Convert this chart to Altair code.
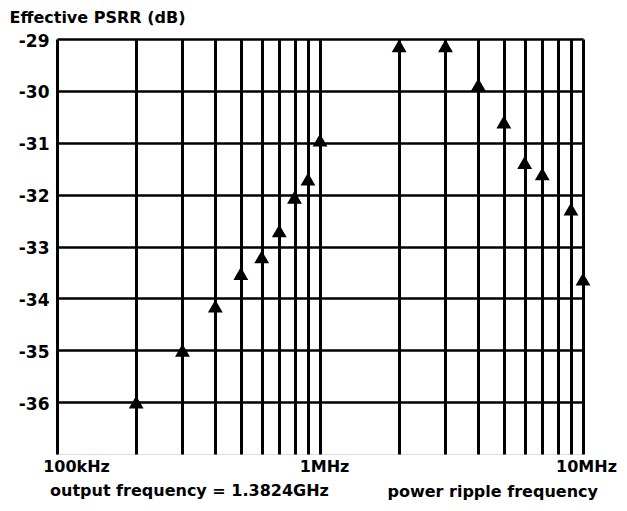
import altair as alt
import pandas as pd

# data
freq_hz = [200000, 300000, 400000, 500000, 600000, 700000, 800000, 900000,
           1000000, 2000000, 3000000, 4000000, 5000000, 6000000, 7000000,
           9000000, 10000000]
psrr_db = [-36.0, -35.0, -34.15, -33.52, -33.2, -32.7, -32.05, -31.7,
           -30.95, -29.13, -29.13, -29.88, -30.6, -31.38, -31.6,
           -32.28, -33.63]

grid_freqs = [100000, 200000, 300000, 400000, 500000, 600000, 700000, 800000,
              900000, 1000000, 2000000, 3000000, 4000000, 5000000, 6000000,
              7000000, 8000000, 9000000, 10000000]
y_ticks = [-36, -35, -34, -33, -32, -31, -30, -29]

FONT = "DejaVu Sans"

df = pd.DataFrame({"freq": freq_hz, "psrr": psrr_db})

x_scale = alt.Scale(type="log", domain=[100000, 10000000], nice=False)
y_scale = alt.Scale(domain=[-37, -29], nice=False, zero=False)

x_axis = alt.Axis(
    values=grid_freqs,
    labelExpr="datum.value == 100000 ? '100kHz' : datum.value == 1000000 ? '1MHz' : datum.value == 10000000 ? '10MHz' : ''",
    grid=True, gridColor="black", gridWidth=3, gridOpacity=1,
    ticks=False, domain=False,
    labelFont=FONT, labelFontSize=16, labelFontWeight="bold", labelColor="black",
    labelAlign="center", labelBaseline="alphabetic", labelPadding=17,
    labelFlush=False, labelOverlap=False,
    labelOffset={"condition": [{"test": "datum.value == 1000000", "value": 4},
                               {"test": "datum.value == 10000000", "value": 3}],
                 "value": 19},
    title="power ripple frequency",
    titleFont=FONT, titleFontSize=16, titleFontWeight="bold", titleColor="black",
    titleAlign="left", titleBaseline="alphabetic", titleX=330, titleY=42,
)

y_axis = alt.Axis(
    values=y_ticks,
    labelExpr="'' + datum.value",
    grid=True, gridColor="black", gridWidth=2.6, gridOpacity=1,
    ticks=False, domain=False,
    labelFont=FONT, labelFontSize=17, labelFontWeight="bold", labelColor="black",
    labelAlign="right", labelBaseline="alphabetic", labelPadding=8, labelOffset=7,
    labelFlush=False, labelOverlap=False,
    title="Effective PSRR (dB)",
    titleFont=FONT, titleFontSize=16, titleFontWeight="bold", titleColor="black",
    titleAngle=0, titleAlign="left", titleBaseline="alphabetic", titleX=-48, titleY=-17,
)

points = alt.Chart(df).mark_point(
    shape="triangle-up", filled=True, color="black", opacity=1, size=220, clip=False
).encode(
    x=alt.X("freq:Q", scale=x_scale, axis=x_axis),
    y=alt.Y("psrr:Q", scale=y_scale, axis=y_axis),
)

note = alt.Chart(pd.DataFrame({"t": ["output frequency = 1.3824GHz"]})).mark_text(
    font=FONT, fontSize=16, fontWeight="bold", color="black",
    align="left", baseline="alphabetic"
).encode(
    text="t:N",
    x=alt.value(-7),
    y=alt.value(457),
)

chart = alt.layer(points, note).properties(
    width=526, height=415,
    autosize="none",
    padding={"left": 49, "top": 31, "right": 36, "bottom": 49},
).configure_view(
    stroke="black", strokeWidth=3.2, fill="white"
).configure(background="white")

chart.save("out.html", embed_options={"renderer": "svg", "actions": False})
